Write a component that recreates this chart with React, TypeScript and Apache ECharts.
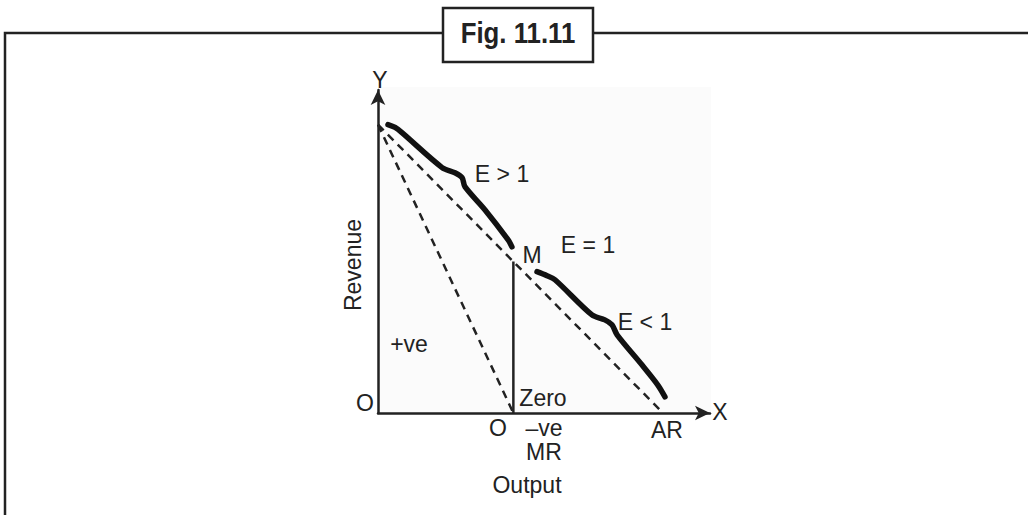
import React, { useEffect, useRef } from "react";
import * as echarts from "echarts";

// Demand (AR) and marginal revenue (MR) lines, in output / revenue units
const AR_LINE: number[][] = [[0, 10], [10, 0]];
const MR_LINE: number[][] = [[0, 10], [4.75, 0]];
const M_DROP: number[][] = [[4.75, 0], [4.75, 5.25]];

// Brace-like elastic segments drawn above AR
const ELASTIC_UPPER: number[][] = [
  [0.35, 10.0], [0.6, 9.9], [0.84, 9.72], [2.25, 8.51], [2.7, 8.33],
  [2.95, 8.16], [3.05, 7.85], [3.75, 7.05], [4.56, 6.01], [4.7, 5.76],
];
const ELASTIC_LOWER: number[][] = [
  [5.58, 4.9], [5.93, 4.76], [6.21, 4.62], [7.51, 3.4], [7.96, 3.23],
  [8.21, 3.06], [8.39, 2.71], [9.26, 1.67], [9.82, 0.97], [10.07, 0.56],
];

const TITLE = "Fig. 11.11";
const X_NAME = "Output";
const Y_NAME = "Revenue";

const FONT = "'Liberation Sans', Arial, Helvetica, sans-serif";
const INK = "#222";

export default function App() {
  const ref = useRef<HTMLDivElement>(null);

  useEffect(() => {
    if (!ref.current) return;
    const chart = echarts.init(ref.current, null, { renderer: "svg" });

    const txt = (text: string, x: number, y: number, extra: any = {}) => ({
      type: "text",
      x,
      y,
      z: 10,
      style: {
        text,
        fill: INK,
        font: `23px ${FONT}`,
        align: "center",
        verticalAlign: "middle",
        ...(extra.style || {}),
      },
      ...(extra.el || {}),
    });

    const dashed = { color: INK, width: 2.5, type: [8, 6] as any };
    const thick = { color: "#111", width: 5.5, cap: "round", join: "round" };

    chart.setOption({
      animation: false,
      backgroundColor: "#ffffff",
      grid: { left: 378, top: 90, width: 332, height: 323, containLabel: false },
      xAxis: {
        type: "value",
        min: 0,
        max: 11.65,
        axisLine: {
          show: true,
          onZero: false,
          symbol: ["none", "arrow"],
          symbolSize: [11, 15],
          lineStyle: { color: INK, width: 2.5 },
        },
        axisTick: { show: false },
        axisLabel: { show: false },
        splitLine: { show: false },
      },
      yAxis: {
        type: "value",
        min: 0,
        max: 11.2,
        axisLine: {
          show: true,
          onZero: false,
          symbol: ["none", "arrow"],
          symbolSize: [11, 15],
          lineStyle: { color: INK, width: 2.5 },
        },
        axisTick: { show: false },
        axisLabel: { show: false },
        splitLine: { show: false },
      },
      series: [
        { type: "line", data: AR_LINE, showSymbol: false, lineStyle: dashed, silent: true },
        { type: "line", data: MR_LINE, showSymbol: false, lineStyle: dashed, silent: true },
        {
          type: "line",
          data: M_DROP,
          showSymbol: false,
          lineStyle: { color: INK, width: 2.5 },
          silent: true,
        },
        {
          type: "line",
          data: ELASTIC_UPPER,
          showSymbol: false,
          smooth: 0.3,
          lineStyle: thick,
          silent: true,
        },
        {
          type: "line",
          data: ELASTIC_LOWER,
          showSymbol: false,
          smooth: 0.3,
          lineStyle: thick,
          silent: true,
        },
      ],
      graphic: [
        // faint scan background behind the diagram
        {
          type: "rect",
          z: -10,
          shape: { x: 380, y: 87, width: 331, height: 327 },
          style: { fill: "#fbfbfb" },
        },
        // frame
        {
          type: "polyline",
          z: 5,
          shape: { points: [[5, 516], [5, 33], [1030, 33]] },
          style: { stroke: INK, lineWidth: 2.5, fill: null },
        },
        {
          type: "rect",
          z: 6,
          shape: { x: 443, y: 8, width: 150, height: 54 },
          style: { fill: "#fff", stroke: INK, lineWidth: 2.5 },
        },
        txt(TITLE, 518, 33, {
          style: { font: `bold 30px ${FONT}` },
          el: { scaleX: 0.86 },
        }),
        txt("Y", 380, 80),
        txt("X", 720, 412),
        txt("O", 365, 403),
        txt("E > 1", 502, 174),
        txt("E = 1", 588, 245),
        txt("M", 532, 255),
        txt("E < 1", 645, 322),
        txt("+ve", 409, 344),
        txt("Zero", 543, 398),
        txt("O", 498, 428),
        txt("\u2013ve", 544, 428),
        txt("MR", 544, 452),
        txt("AR", 667, 430),
        txt(X_NAME, 527, 485),
        txt(Y_NAME, 353, 265, { el: { rotation: Math.PI / 2 } }),
      ],
    });

    return () => chart.dispose();
  }, []);

  return (
    <div
      ref={ref}
      style={{ position: "absolute", left: 0, top: 0, width: 1028, height: 515 }}
    />
  );
}
